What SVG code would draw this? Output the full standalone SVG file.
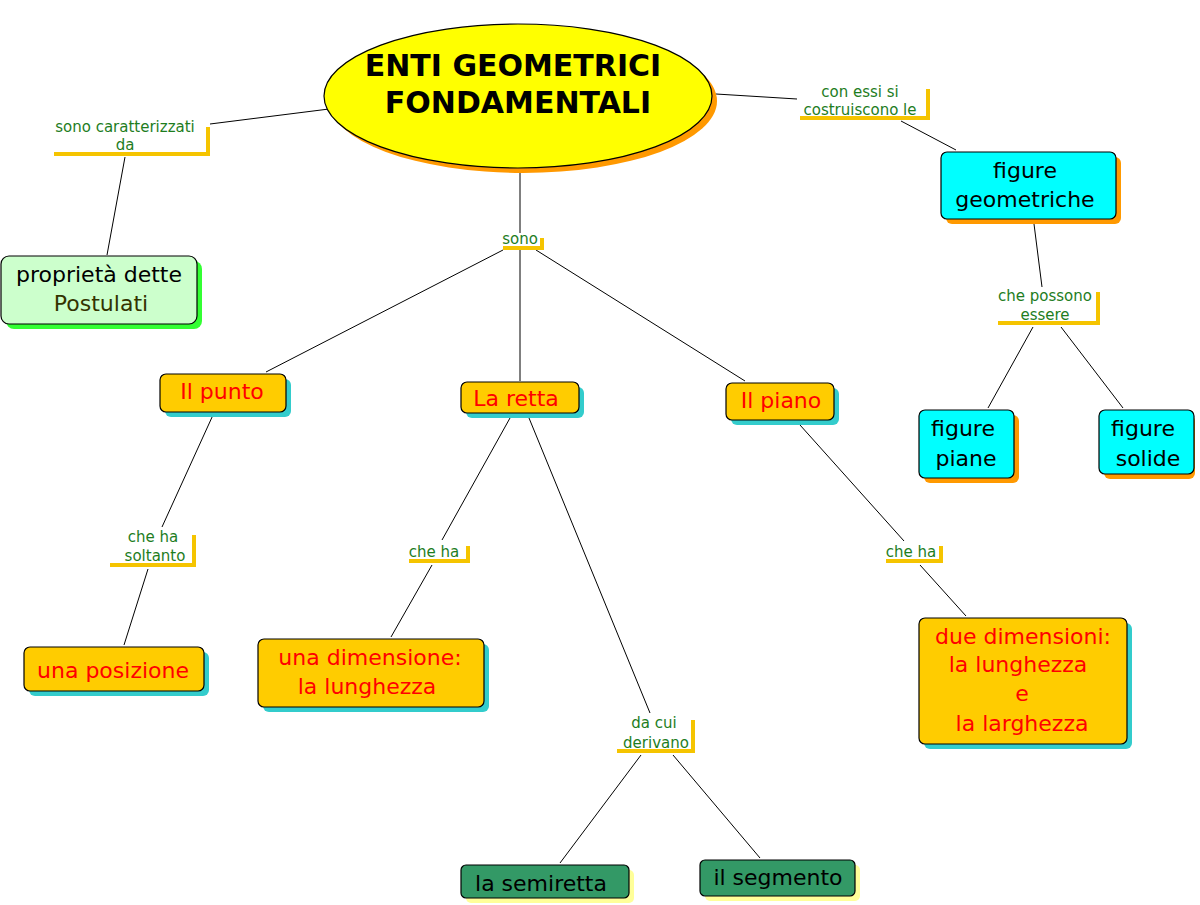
<svg xmlns="http://www.w3.org/2000/svg" width="1200" height="905" viewBox="0 0 1200 905">
<style>
text{font-family:"DejaVu Sans",Verdana,sans-serif;text-anchor:middle}
.lbl{font-size:15px;fill:#1e7d1e}
.ul{fill:none;stroke:#f5c400;stroke-width:4}
.n{stroke:#000;stroke-width:1.2}
.t{font-size:22px}
.o{fill:#ffcc00}
.os{fill:#33cccc}
.c{fill:#00ffff}
.cs{fill:#ff9900}
.r{fill:#ff0000}
.g{fill:#339966}
.gs{fill:#ffff99}
#conn line{stroke:#000;stroke-width:1}
</style>
<rect width="1200" height="905" fill="#fff"/>
<g id="conn">
<line x1="329" y1="109" x2="210" y2="124"/><line x1="125" y1="157" x2="107" y2="255"/>
<line x1="716" y1="94" x2="797" y2="99"/><line x1="901" y1="121" x2="956" y2="150"/>
<line x1="520" y1="172" x2="520" y2="233"/><line x1="503" y1="250" x2="266" y2="372"/>
<line x1="520" y1="250" x2="520" y2="381"/><line x1="536" y1="250" x2="745" y2="381"/>
<line x1="1034" y1="224" x2="1042" y2="287"/><line x1="1033" y1="327" x2="988" y2="408"/>
<line x1="1061" y1="327" x2="1123" y2="408"/>
<line x1="213" y1="415" x2="162" y2="527"/><line x1="148" y1="569" x2="124" y2="645"/>
<line x1="510" y1="418" x2="442" y2="540"/><line x1="432" y1="565" x2="391" y2="637"/>
<line x1="529" y1="418" x2="650" y2="713"/>
<line x1="800" y1="425" x2="904" y2="541"/><line x1="920" y1="565" x2="966" y2="616"/>
<line x1="641" y1="755" x2="560" y2="863"/><line x1="673" y1="755" x2="760" y2="858"/>
</g>
<g id="labels">
<text class="lbl" x="125" y="132">sono caratterizzati</text><text class="lbl" x="125" y="150">da</text>
<path class="ul" d="M54 154H208V127"/>
<text class="lbl" x="860" y="97">con essi si</text><text class="lbl" x="860" y="115">costruiscono le</text>
<path class="ul" d="M800 118H928V89"/>
<text class="lbl" x="520" y="244">sono</text><path class="ul" d="M503 248H542V238"/>
<text class="lbl" x="1045" y="301">che possono</text><text class="lbl" x="1045" y="320">essere</text>
<path class="ul" d="M998 323H1098V292"/>
<text class="lbl" x="153" y="542">che ha</text><text class="lbl" x="155" y="561">soltanto</text>
<path class="ul" d="M110 565H194V535"/>
<text class="lbl" x="434" y="557">che ha</text><path class="ul" d="M409 561H468V546"/>
<text class="lbl" x="911" y="557">che ha</text><path class="ul" d="M886 561H941V546"/>
<text class="lbl" x="654" y="728">da cui</text><text class="lbl" x="656" y="748">derivano</text>
<path class="ul" d="M617 751H693V720"/>
</g>
<g id="main">
<ellipse cx="523" cy="101" rx="194" ry="72" fill="#ff9900"/>
<ellipse cx="518" cy="96" rx="194" ry="72" fill="#ffff00" class="n"/>
<text x="513" y="76" style="font-size:30px;font-weight:bold">ENTI GEOMETRICI</text>
<text x="518" y="113" style="font-size:30px;font-weight:bold">FONDAMENTALI</text>
</g>
<g id="proprieta">
<rect x="6" y="261" width="196" height="68" rx="8" fill="#33ff33"/>
<rect x="1" y="256" width="196" height="68" rx="8" fill="#ccffcc" class="n"/>
<text class="t" x="99" y="282">proprietà dette</text><text class="t" x="101" y="311" fill="#333300">Postulati</text>
</g>
<g id="figgeo">
<rect x="946" y="157" width="175" height="67" rx="6" class="cs"/>
<rect x="941" y="152" width="175" height="67" rx="6" class="c n"/>
<text class="t" x="1025" y="178">figure</text><text class="t" x="1025" y="207">geometriche</text>
</g>
<g id="figpiane">
<rect x="924" y="415" width="95" height="68" rx="6" class="cs"/>
<rect x="919" y="410" width="95" height="68" rx="6" class="c n"/>
<text class="t" x="963" y="436">figure</text><text class="t" x="966" y="466">piane</text>
</g>
<g id="figsolide">
<rect x="1104" y="415" width="91" height="64" rx="6" class="cs"/>
<rect x="1099" y="410" width="95" height="64" rx="6" class="c n"/>
<text class="t" x="1143" y="436">figure</text><text class="t" x="1148" y="466">solide</text>
</g>
<g id="punto">
<rect x="165" y="379" width="126" height="38" rx="6" class="os"/>
<rect x="160" y="374" width="126" height="38" rx="6" class="o n"/>
<text class="t r" x="222" y="399">Il punto</text>
</g>
<g id="retta">
<rect x="466" y="387" width="118" height="31" rx="6" class="os"/>
<rect x="461" y="382" width="118" height="31" rx="6" class="o n"/>
<text class="t r" x="516" y="406">La retta</text>
</g>
<g id="piano">
<rect x="731" y="388" width="108" height="37" rx="6" class="os"/>
<rect x="726" y="383" width="108" height="37" rx="6" class="o n"/>
<text class="t r" x="781" y="408">Il piano</text>
</g>
<g id="posizione">
<rect x="29" y="652" width="180" height="44" rx="6" class="os"/>
<rect x="24" y="647" width="180" height="44" rx="6" class="o n"/>
<text class="t r" x="113" y="678">una posizione</text>
</g>
<g id="unadim">
<rect x="263" y="644" width="226" height="68" rx="6" class="os"/>
<rect x="258" y="639" width="226" height="68" rx="6" class="o n"/>
<text class="t r" x="370" y="665">una dimensione:</text><text class="t r" x="367" y="694">la lunghezza</text>
</g>
<g id="duedim">
<rect x="924" y="623" width="208" height="126" rx="6" class="os"/>
<rect x="919" y="618" width="208" height="126" rx="6" class="o n"/>
<text class="t r" x="1023" y="644">due dimensioni:</text><text class="t r" x="1018" y="672">la lunghezza</text>
<text class="t r" x="1022" y="701">e</text><text class="t r" x="1022" y="731">la larghezza</text>
</g>
<g id="semiretta">
<rect x="466" y="870" width="168" height="33" rx="5" class="gs"/>
<rect x="461" y="865" width="168" height="33" rx="5" class="g n"/>
<text class="t" x="541" y="891">la semiretta</text>
</g>
<g id="segmento">
<rect x="705" y="865" width="155" height="36" rx="5" class="gs"/>
<rect x="700" y="860" width="155" height="36" rx="5" class="g n"/>
<text class="t" x="778" y="885">il segmento</text>
</g>
</svg>
